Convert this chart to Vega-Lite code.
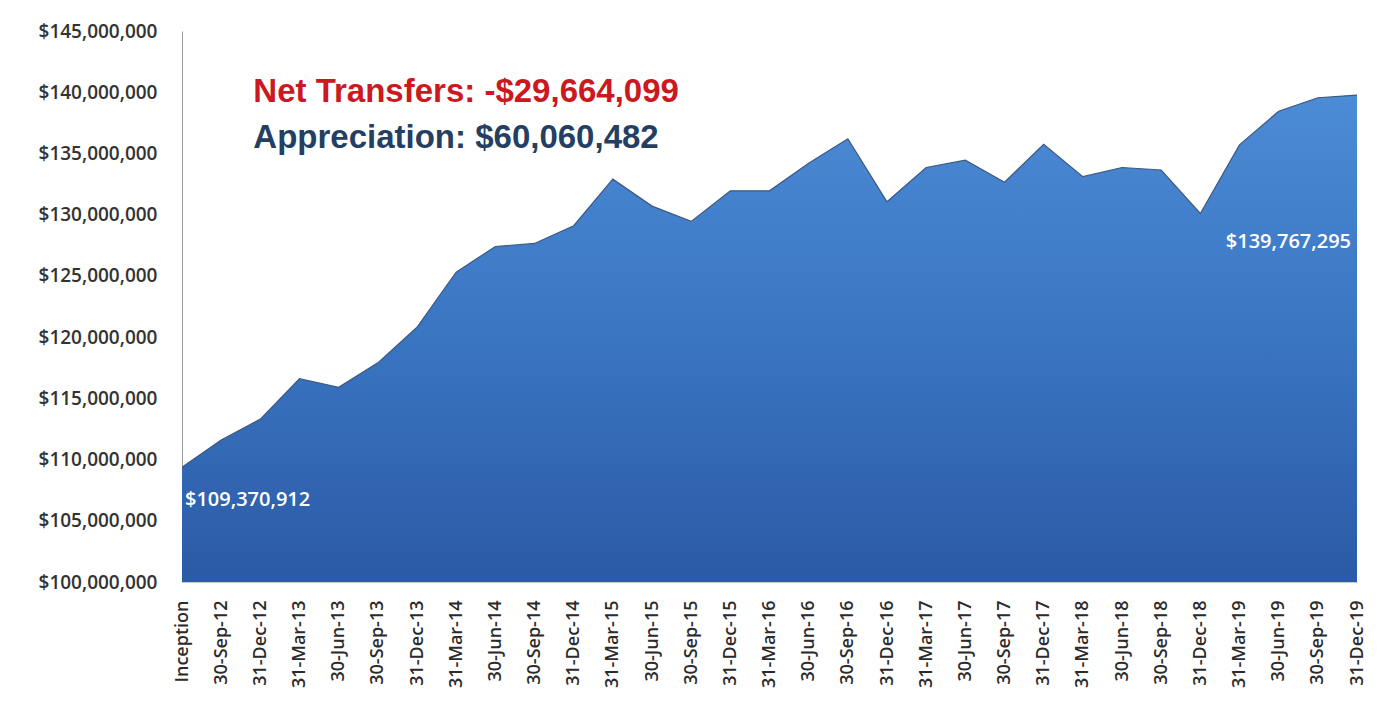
{
  "$schema": "https://vega.github.io/schema/vega-lite/v6.json",
  "width": 1175,
  "height": 551,
  "autosize": "none",
  "padding": {"left": 182, "top": 31, "right": 28, "bottom": 123},
  "background": "white",
  "config": {"view": {"stroke": null}},
  "datasets": {
    "aum": [
      {"date": "Inception", "value": 109370912},
      {"date": "30-Sep-12", "value": 111600000},
      {"date": "31-Dec-12", "value": 113300000},
      {"date": "31-Mar-13", "value": 116600000},
      {"date": "30-Jun-13", "value": 115900000},
      {"date": "30-Sep-13", "value": 117900000},
      {"date": "31-Dec-13", "value": 120800000},
      {"date": "31-Mar-14", "value": 125300000},
      {"date": "30-Jun-14", "value": 127400000},
      {"date": "30-Sep-14", "value": 127650000},
      {"date": "31-Dec-14", "value": 129100000},
      {"date": "31-Mar-15", "value": 132900000},
      {"date": "30-Jun-15", "value": 130700000},
      {"date": "30-Sep-15", "value": 129450000},
      {"date": "31-Dec-15", "value": 131950000},
      {"date": "31-Mar-16", "value": 131950000},
      {"date": "30-Jun-16", "value": 134200000},
      {"date": "30-Sep-16", "value": 136200000},
      {"date": "31-Dec-16", "value": 131050000},
      {"date": "31-Mar-17", "value": 133850000},
      {"date": "30-Jun-17", "value": 134450000},
      {"date": "30-Sep-17", "value": 132650000},
      {"date": "31-Dec-17", "value": 135750000},
      {"date": "31-Mar-18", "value": 133100000},
      {"date": "30-Jun-18", "value": 133850000},
      {"date": "30-Sep-18", "value": 133650000},
      {"date": "31-Dec-18", "value": 130100000},
      {"date": "31-Mar-19", "value": 135700000},
      {"date": "30-Jun-19", "value": 138450000},
      {"date": "30-Sep-19", "value": 139550000},
      {"date": "31-Dec-19", "value": 139767295}
    ],
    "notes": [
      {"date": "31-Dec-12", "value": 139230000, "text": "Net Transfers: -$29,664,099", "kind": "Net Transfers"},
      {"date": "31-Dec-12", "value": 135440000, "text": "Appreciation: $60,060,482", "kind": "Appreciation"}
    ]
  },
  "encoding": {
    "x": {
      "field": "date",
      "type": "nominal",
      "sort": null,
      "scale": {"padding": 0},
      "axis": {
        "title": null,
        "labelAngle": -90,
        "ticks": false,
        "tickSize": 0,
        "labelPadding": 18,
        "domainColor": "#cccccc",
        "labelFont": "Open Sans",
        "labelFontSize": 18,
        "labelFontWeight": 600,
        "labelColor": "#2b2b2b"
      }
    },
    "y": {
      "field": "value",
      "type": "quantitative",
      "scale": {"domain": [100000000, 145000000], "zero": false, "nice": false},
      "axis": {
        "title": null,
        "values": [100000000, 105000000, 110000000, 115000000, 120000000, 125000000, 130000000, 135000000, 140000000, 145000000],
        "format": "$,.0f",
        "grid": false,
        "ticks": false,
        "tickSize": 0,
        "labelPadding": 25,
        "domainColor": "#999999",
        "labelFont": "Open Sans",
        "labelFontSize": 19,
        "labelFontWeight": 600,
        "labelColor": "#333333"
      }
    }
  },
  "layer": [
    {
      "data": {"name": "aum"},
      "mark": {
        "type": "area",
        "clip": true,
        "opacity": 1,
        "fillOpacity": 1,
        "color": {
          "gradient": "linear",
          "x1": 0, "y1": 0, "x2": 0, "y2": 1,
          "stops": [
            {"offset": 0, "color": "#4c8bd5"},
            {"offset": 0.5, "color": "#3a75c2"},
            {"offset": 1, "color": "#2b5aa6"}
          ]
        },
        "line": {"color": "#3d5880", "strokeWidth": 1.2}
      },
      "encoding": {"y2": {"datum": 100000000}}
    },
    {
      "data": {"name": "aum"},
      "transform": [{"filter": "datum.date === 'Inception'"}],
      "mark": {"type": "text", "align": "left", "baseline": "middle", "dx": 3, "dy": 33, "font": "Open Sans", "fontSize": 20, "fontWeight": 600, "color": "#ffffff"},
      "encoding": {"text": {"field": "value", "type": "quantitative", "format": "$,.0f"}}
    },
    {
      "data": {"name": "aum"},
      "transform": [{"filter": "datum.date === '31-Dec-19'"}],
      "mark": {"type": "text", "align": "right", "baseline": "middle", "dx": -6, "dy": 147, "font": "Open Sans", "fontSize": 20, "fontWeight": 600, "color": "#ffffff"},
      "encoding": {"text": {"field": "value", "type": "quantitative", "format": "$,.0f"}}
    },
    {
      "data": {"name": "notes"},
      "mark": {"type": "text", "align": "left", "baseline": "alphabetic", "dx": -7, "font": "Liberation Sans", "fontWeight": "bold", "fontSize": 33},
      "encoding": {
        "text": {"field": "text"},
        "color": {
          "field": "kind",
          "type": "nominal",
          "scale": {"domain": ["Net Transfers", "Appreciation"], "range": ["#cc1820", "#253f62"]},
          "legend": null
        }
      }
    }
  ]
}
